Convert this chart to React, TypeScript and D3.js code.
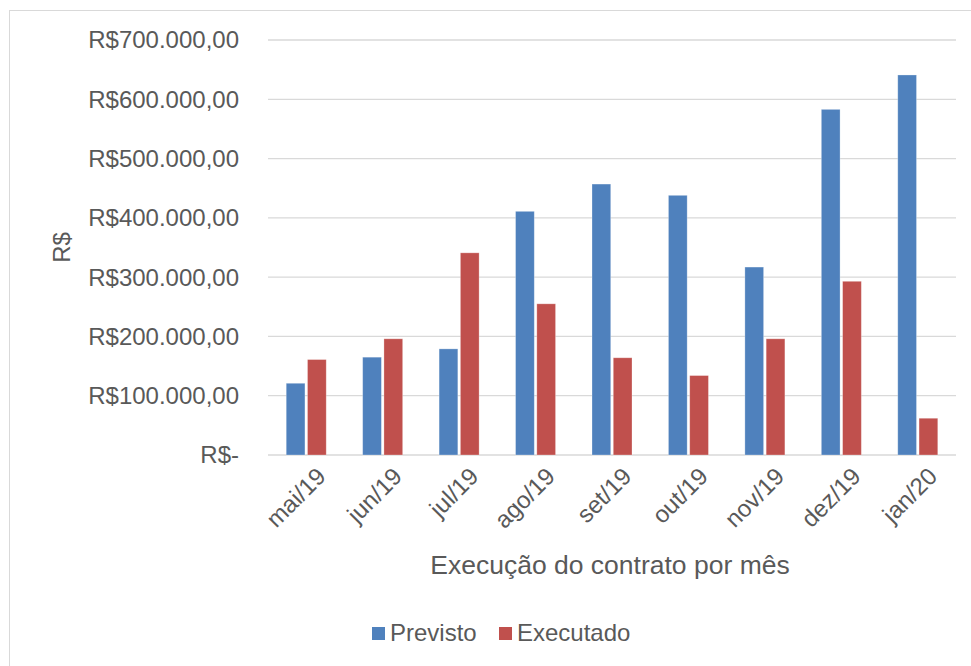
import { useEffect, useRef } from "react";
import * as d3 from "d3";

const MONTHS = ["mai/19", "jun/19", "jul/19", "ago/19", "set/19", "out/19", "nov/19", "dez/19", "jan/20"];
const PREVISTO = [121000, 165000, 179000, 411000, 457000, 438000, 317000, 583000, 641000];
const EXECUTADO = [161000, 196000, 341000, 255000, 164000, 134000, 196000, 293000, 62000];
const SERIES = ["Previsto", "Executado"];
const COLORS = ["#4F81BD", "#C0504D"];
const Y_TICKS = [0, 100000, 200000, 300000, 400000, 500000, 600000, 700000];

const fmt = (v: number) =>
  v === 0 ? "R$-" : "R$" + d3.format(",.2f")(v).replace(/,/g, "#").replace(".", ",").replace(/#/g, ".");

export default function App() {
  const ref = useRef<SVGSVGElement>(null);

  useEffect(() => {
    if (!ref.current) return;
    const svg = d3.select(ref.current);
    svg.selectAll("*").remove();

    const W = 971, H = 666;
    const m = { top: 40, right: 15, bottom: 211, left: 268 };
    const iW = W - m.left - m.right;
    const iH = H - m.top - m.bottom;
    const font = "'Liberation Sans', Arial, sans-serif";

    svg.append("rect")
      .attr("x", 9.5).attr("y", 10.5).attr("width", 970).attr("height", 670)
      .attr("fill", "#fff").attr("stroke", "#D9D9D9");

    const x = d3.scaleBand().domain(MONTHS).range([0, iW]);
    const x1 = d3.scaleBand().domain(SERIES).range([x.bandwidth() / 2 - 20, x.bandwidth() / 2 + 20]).paddingInner(0.12);
    const y = d3.scaleLinear().domain([0, 700000]).range([iH, 0]);

    const g = svg.append("g").attr("transform", `translate(${m.left},${m.top})`);

    // grid
    g.selectAll("line.grid")
      .data(Y_TICKS)
      .enter().append("line")
      .attr("class", "grid")
      .attr("x1", 0).attr("x2", iW)
      .attr("y1", d => y(d)).attr("y2", d => y(d))
      .attr("stroke", "#D9D9D9").attr("stroke-width", 1.3);

    // y labels
    g.selectAll("text.yl")
      .data(Y_TICKS)
      .enter().append("text")
      .attr("class", "yl")
      .attr("x", -29).attr("y", d => y(d))
      .attr("dy", "0.35em")
      .attr("text-anchor", "end")
      .attr("font-family", font).attr("font-size", "24px")
      .attr("fill", "#595959")
      .text(d => fmt(d));

    // bars
    const data = MONTHS.map((mo, i) => ({ mo, vals: [PREVISTO[i], EXECUTADO[i]] }));
    const grp = g.selectAll("g.cat")
      .data(data)
      .enter().append("g")
      .attr("transform", d => `translate(${x(d.mo)},0)`);
    grp.selectAll("rect")
      .data(d => d.vals.map((v, k) => ({ v, k })))
      .enter().append("rect")
      .attr("x", d => x1(SERIES[d.k])!)
      .attr("width", x1.bandwidth())
      .attr("y", d => y(d.v))
      .attr("height", d => y(0) - y(d.v))
      .attr("fill", d => COLORS[d.k])
      .attr("stroke", "#fff").attr("stroke-opacity", 0.35).attr("stroke-width", 0.8);

    // x labels
    g.selectAll("text.xl")
      .data(MONTHS)
      .enter().append("text")
      .attr("class", "xl")
      .attr("transform", d => `translate(${x(d)! + x.bandwidth() / 2 + 9},${iH + 11}) rotate(-45)`)
      .attr("text-anchor", "end")
      .attr("dy", "0.7em")
      .attr("font-family", font).attr("font-size", "24px")
      .attr("fill", "#595959")
      .text(d => d);

    // axis titles
    svg.append("text")
      .attr("x", m.left + iW / 2 - 2).attr("y", 574)
      .attr("text-anchor", "middle")
      .attr("font-family", font).attr("font-size", "26.5px")
      .attr("fill", "#595959")
      .text("Execução do contrato por mês");

    svg.append("text")
      .attr("transform", `translate(70,${m.top + iH / 2}) rotate(-90)`)
      .attr("text-anchor", "middle")
      .attr("font-family", font).attr("font-size", "24px")
      .attr("fill", "#595959")
      .text("R$");

    // legend
    const lg = svg.append("g").attr("transform", "translate(372,627)");
    const offs = [0, 127];
    SERIES.forEach((s, i) => {
      lg.append("rect")
        .attr("x", offs[i]).attr("y", 0).attr("width", 13).attr("height", 13)
        .attr("fill", COLORS[i]);
      lg.append("text")
        .attr("x", offs[i] + 18).attr("y", 14)
        .attr("font-family", font).attr("font-size", "24px")
        .attr("fill", "#595959")
        .text(s);
    });
  }, []);

  return (
    <svg ref={ref} width={971} height={666}
      style={{ position: "absolute", left: 0, top: 0, display: "block" }} />
  );
}
